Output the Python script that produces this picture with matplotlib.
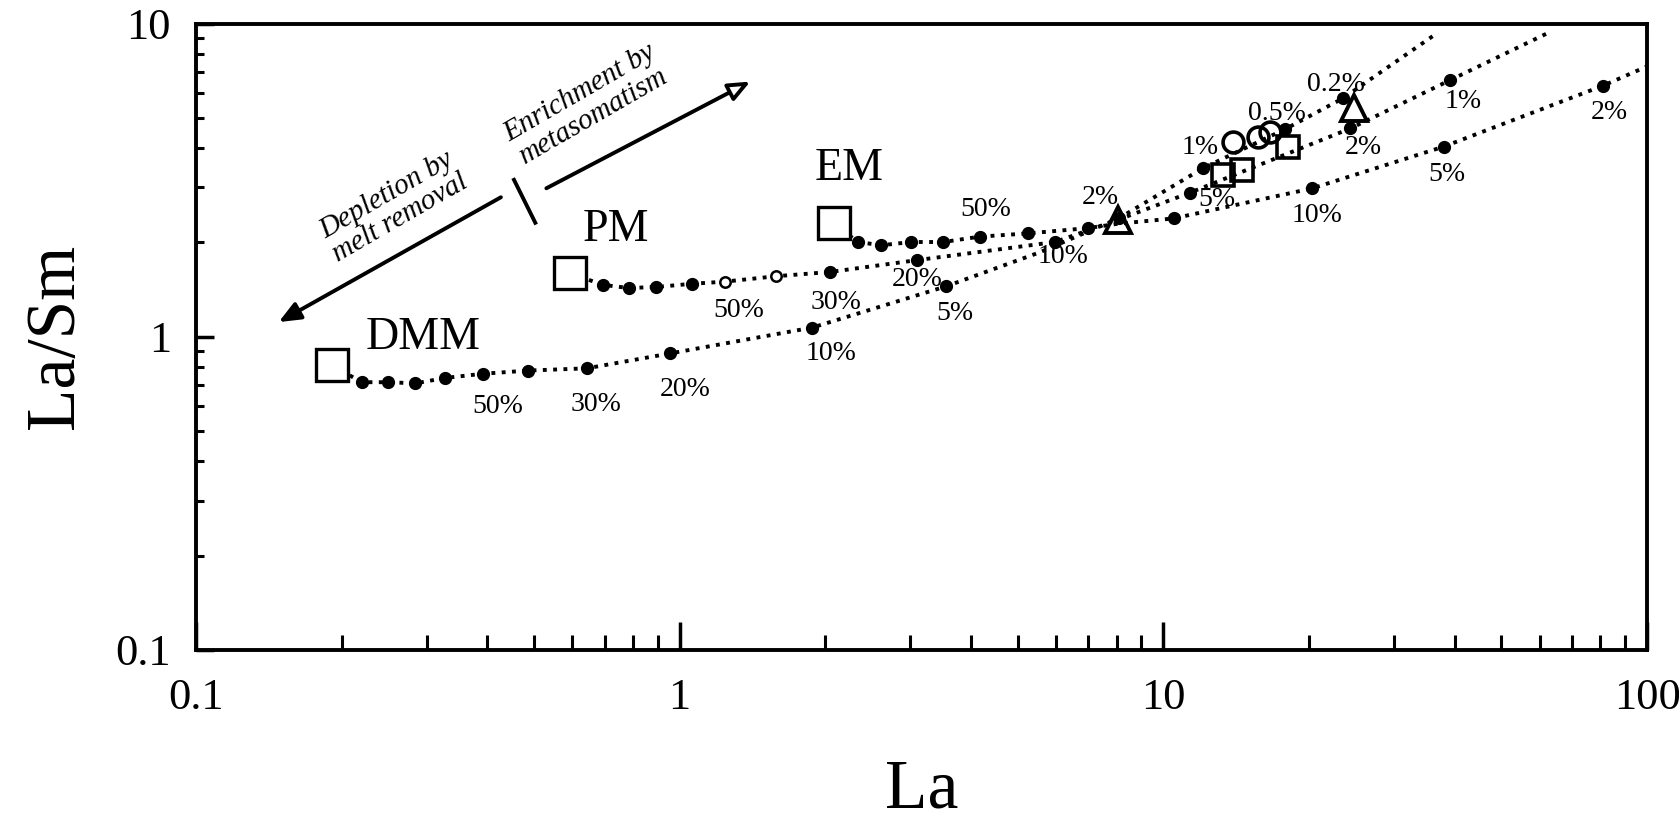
import matplotlib.pyplot as plt
from matplotlib.ticker import LogLocator, NullFormatter

plt.rcParams['font.family'] = ['Liberation Serif', 'DejaVu Serif']

# source compositions (open squares)
src_names = ['DMM', 'PM', 'EM']
src_la = [0.191, 0.592, 2.08]
src_lasm = [0.812, 1.60, 2.31]
src_label_la = [0.295, 0.738, 2.24]
src_label_lasm = [0.996, 2.19, 3.43]

# melting curves (first point = source, last point = end of line)
dmm_la = [0.191, 0.220, 0.250, 0.284, 0.328, 0.392, 0.486, 0.643, 0.957,
          1.88, 3.56, 5.55, 8.09, 12.1, 17.8, 23.5, 36.8]
dmm_lasm = [0.812, 0.716, 0.716, 0.710, 0.739, 0.762, 0.780, 0.793, 0.885,
            1.07, 1.45, 1.86, 2.39, 3.46, 4.59, 5.77, 9.32]
dmm_dots = [1, 2, 3, 4, 5, 6, 7, 8, 9, 10, 12, 13, 14, 15]

pm_la = [0.592, 0.694, 0.784, 0.895, 1.059, 1.241, 1.585, 2.045, 3.09,
         5.97, 8.09, 11.34, 24.35, 39.1, 62.9]
pm_lasm = [1.597, 1.465, 1.431, 1.442, 1.476, 1.500, 1.561, 1.610, 1.756,
           2.007, 2.368, 2.883, 4.624, 6.59, 9.39]
pm_dots = [1, 2, 3, 4, 7, 8, 9, 11, 12, 13]
pm_open = [5, 6]

em_la = [2.076, 2.334, 2.612, 3.012, 3.51, 4.174, 5.25, 6.98, 8.05, 10.5,
         20.27, 37.96, 81.1, 100.0]
em_lasm = [2.312, 2.007, 1.960, 2.007, 2.007, 2.088, 2.138, 2.223, 2.295,
           2.387, 2.975, 4.045, 6.335, 7.30]
em_dots = [1, 2, 3, 4, 5, 6, 7, 9, 10, 11, 12]

# melt-fraction labels
dmm_pct = ['50%', '30%', '20%', '10%', '5%', '2%', '1%', '0.5%', '0.2%']
dmm_pct_la = [0.421, 0.673, 1.027, 2.055, 3.71, 7.39, 11.93, 17.13, 22.79]
dmm_pct_lasm = [0.597, 0.607, 0.677, 0.885, 1.184, 2.794, 4.013, 5.16, 6.385]

pm_pct = ['50%', '30%', '20%', '10%', '5%', '2%', '1%']
pm_pct_la = [1.326, 2.108, 3.105, 6.21, 12.88, 25.89, 41.6]
pm_pct_lasm = [1.213, 1.291, 1.524, 1.798, 2.750, 4.013, 5.63]

em_pct = ['50%', '10%', '5%', '2%']
em_pct_la = [4.30, 20.79, 38.5, 83.6]
em_pct_lasm = [2.542, 2.443, 3.296, 5.20]

# samples
circ_la = [13.9, 15.71, 16.62]
circ_lasm = [4.174, 4.342, 4.516]
sq_la = [13.28, 14.55, 18.12]
sq_lasm = [3.296, 3.40, 4.045]
tri_la = [8.05, 24.73]
tri_lasm = [2.368, 5.37]

x_ticks = [0.1, 1, 10, 100]
x_ticklabels = ['0.1', '1', '10', '100']
y_ticks = [0.1, 1, 10]
y_ticklabels = ['0.1', '1', '10']

fig = plt.figure(figsize=(16.79, 8.24), dpi=100)
ax = fig.add_axes([0.1167, 0.2112, 0.8643, 0.7602])
ax.set_xscale('log')
ax.set_yscale('log')
ax.set_xlim(0.1, 100)
ax.set_ylim(0.1, 10)

# dotted melting curves with filled dots
for la, lasm, dots in [(dmm_la, dmm_lasm, dmm_dots),
                       (pm_la, pm_lasm, pm_dots),
                       (em_la, em_lasm, em_dots)]:
    ax.plot(la, lasm, ls=':', lw=2.8, color='black', zorder=2)
    ax.plot([la[i] for i in dots], [lasm[i] for i in dots], ls='none',
            marker='o', ms=8.5, color='black', zorder=3)
ax.plot([pm_la[i] for i in pm_open], [pm_lasm[i] for i in pm_open], ls='none',
        marker='o', ms=7.5, mfc='white', mec='black', mew=1.8, zorder=3)

# sources
ax.plot(src_la, src_lasm, ls='none', marker='s', ms=23, mfc='white',
        mec='black', mew=2.4, zorder=4)
for name, x, y in zip(src_names, src_label_la, src_label_lasm):
    ax.text(x, y, name, fontsize=33, ha='center', va='center')

# samples
ax.plot(circ_la, circ_lasm, ls='none', marker='o', ms=15, mfc='none',
        mec='black', mew=2.6, zorder=4)
ax.plot(sq_la, sq_lasm, ls='none', marker='s', ms=16, mfc='none',
        mec='black', mew=2.6, zorder=4)
ax.plot(tri_la, tri_lasm, ls='none', marker='^', ms=19, mfc='none',
        mec='black', mew=2.8, zorder=4)

# percent labels
for labels, xs, ys in [(dmm_pct, dmm_pct_la, dmm_pct_lasm),
                       (pm_pct, pm_pct_la, pm_pct_lasm),
                       (em_pct, em_pct_la, em_pct_lasm)]:
    for t, x, y in zip(labels, xs, ys):
        ax.text(x, y, t, fontsize=20, ha='center', va='center', zorder=5)

# depletion / enrichment arrows
ax.annotate('', xy=(0.1466, 1.103), xytext=(0.432, 2.817),
            arrowprops=dict(arrowstyle='-|>,head_length=1.3,head_width=0.55',
                            lw=2.8, fc='black', ec='black'))
ax.annotate('', xy=(1.416, 6.59), xytext=(0.524, 2.951),
            arrowprops=dict(arrowstyle='-|>,head_length=1.3,head_width=0.55',
                            lw=2.8, fc='white', ec='black'))
ax.plot([0.4545, 0.503], [3.17, 2.312], color='black', lw=2.8)
ax.text(0.2555, 2.603, 'Depletion by\nmelt removal', fontsize=21,
        style='italic', rotation=30, rotation_mode='anchor',
        ha='center', va='center', linespacing=1.05)
ax.text(0.643, 5.50, 'Enrichment by\nmetasomatism', fontsize=21,
        style='italic', rotation=30, rotation_mode='anchor',
        ha='center', va='center', linespacing=1.05)

# axes styling
for s in ax.spines.values():
    s.set_linewidth(2.8)
ax.set_xticks(x_ticks)
ax.set_xticklabels(x_ticklabels)
ax.set_yticks(y_ticks)
ax.set_yticklabels(y_ticklabels)
ax.xaxis.set_minor_locator(LogLocator(base=10, subs=range(2, 10)))
ax.yaxis.set_minor_locator(LogLocator(base=10, subs=range(2, 10)))
ax.xaxis.set_minor_formatter(NullFormatter())
ax.yaxis.set_minor_formatter(NullFormatter())
ax.tick_params(axis='x', which='major', direction='in', length=20, width=2.5,
               top=False, pad=20, labelsize=32)
ax.tick_params(axis='x', which='minor', direction='in', length=11, width=2.2,
               top=False)
ax.tick_params(axis='y', which='major', direction='in', length=13, width=2.5,
               right=False, pad=18, labelsize=32)
ax.tick_params(axis='y', which='minor', direction='in', length=6, width=2.2,
               right=False)

ax.set_xlabel('La', fontsize=50, labelpad=30)
ax.set_ylabel('La/Sm', fontsize=50, labelpad=20)

fig.savefig('out.png', dpi=100)
